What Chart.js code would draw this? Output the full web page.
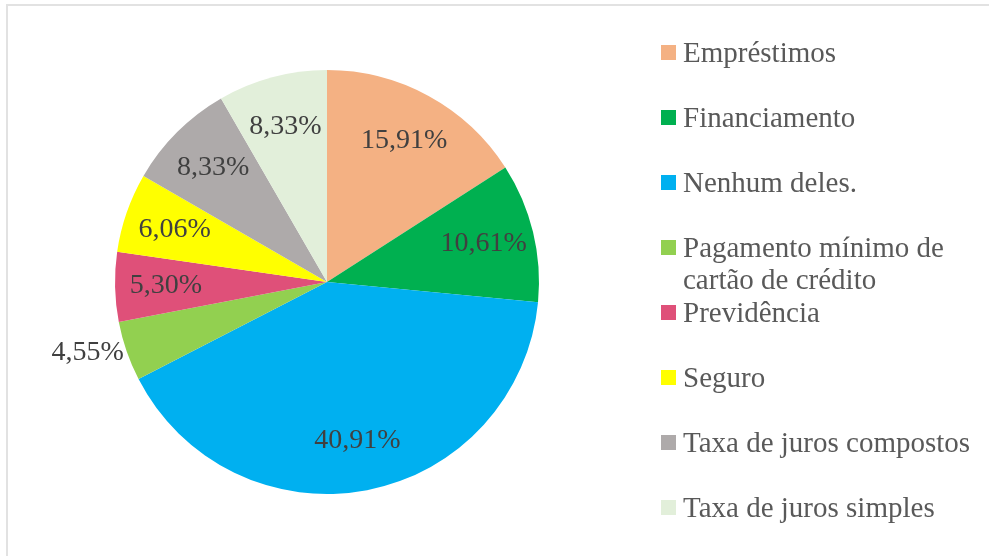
<!DOCTYPE html>
<html>
<head>
  <meta charset="UTF-8">
  <title>Pie chart</title>
  <script src="https://cdn.jsdelivr.net/npm/chart.js"></script>
  <style>
    body {
      margin: 0;
      width: 989px;
      height: 556px;
      overflow: hidden;
      background: #fff;
      font-family: 'Liberation Serif', 'Times New Roman', serif;
    }
    /* moldura cinza clara, cortada à direita e embaixo */
    .frame {
      position: absolute;
      left: 6px;
      top: 4px;
      width: 1000px;
      height: 600px;
      border: 2px solid #e2e2e2;
      box-sizing: border-box;
    }
    .wrap {
      position: absolute;
      left: 0;
      top: 0;
      width: 989px;
      height: 556px;
    }
    #legend {
      position: absolute;
      left: 661px;
      top: 36px;
      margin: 0;
      padding: 0;
      list-style: none;
      color: #595959;
      font-size: 29px;
      line-height: 32px;
    }
    #legend li {
      height: 65px;
      display: flex;
      align-items: flex-start;
    }
    #legend .box {
      width: 15px;
      height: 15px;
      margin-top: 9px;
      margin-right: 7px;
      flex: none;
    }
  </style>
</head>
<body>
  <div class="frame"></div>
  <div class="wrap"><canvas id="pie"></canvas></div>
  <ul id="legend"></ul>

  <script>
    const categories = [
      'Empréstimos',
      'Financiamento',
      'Nenhum deles.',
      ['Pagamento mínimo de', 'cartão de crédito'],
      'Previdência',
      'Seguro',
      'Taxa de juros compostos',
      'Taxa de juros simples'
    ];
    const values = [15.91, 10.61, 40.91, 4.55, 5.30, 6.06, 8.33, 8.33];
    const colors = ['#F4B183', '#00B050', '#00B0F0', '#92D050', '#DF5079', '#FFFF00', '#AEAAAA', '#E2EFDA'];

    const fmt = v => v.toFixed(2).replace('.', ',') + '%';

    // rótulos de porcentagem dentro das fatias (fora quando a fatia é pequena)
    const sliceLabels = {
      id: 'sliceLabels',
      afterDatasetsDraw(chart) {
        const ctx = chart.ctx;
        const meta = chart.getDatasetMeta(0);
        const total = values.reduce((a, b) => a + b, 0);
        ctx.save();
        ctx.font = '28px "Liberation Serif", "Times New Roman", serif';
        ctx.fillStyle = '#404040';
        ctx.textBaseline = 'middle';
        meta.data.forEach((arc, i) => {
          const p = arc.getProps(['x', 'y', 'startAngle', 'endAngle', 'outerRadius'], true);
          const mid = (p.startAngle + p.endAngle) / 2;
          const small = values[i] / total < 0.05;
          const r = small ? p.outerRadius + 3 : p.outerRadius * 0.76;
          const x = p.x + Math.cos(mid) * r;
          const y = p.y + Math.sin(mid) * r;
          if (small) {
            ctx.textAlign = Math.cos(mid) < 0 ? 'right' : 'left';
          } else {
            ctx.textAlign = 'center';
          }
          ctx.fillText(fmt(values[i]), x, y);
        });
        ctx.restore();
      }
    };

    new Chart(document.getElementById('pie'), {
      type: 'pie',
      data: {
        labels: categories.map(c => Array.isArray(c) ? c.join(' ') : c),
        datasets: [{
          data: values,
          backgroundColor: colors,
          borderWidth: 0
        }]
      },
      options: {
        responsive: true,
        maintainAspectRatio: false,
        animation: false,
        layout: {
          padding: { left: 115, top: 70, right: 450, bottom: 62 }
        },
        plugins: {
          legend: { display: false },
          tooltip: { enabled: false }
        }
      },
      plugins: [sliceLabels]
    });

    // legenda em HTML
    const legend = document.getElementById('legend');
    categories.forEach((c, i) => {
      const li = document.createElement('li');
      const box = document.createElement('span');
      box.className = 'box';
      box.style.background = colors[i];
      const txt = document.createElement('span');
      txt.innerHTML = Array.isArray(c) ? c.join('<br>') : c;
      li.appendChild(box);
      li.appendChild(txt);
      legend.appendChild(li);
    });
  </script>
</body>
</html>
